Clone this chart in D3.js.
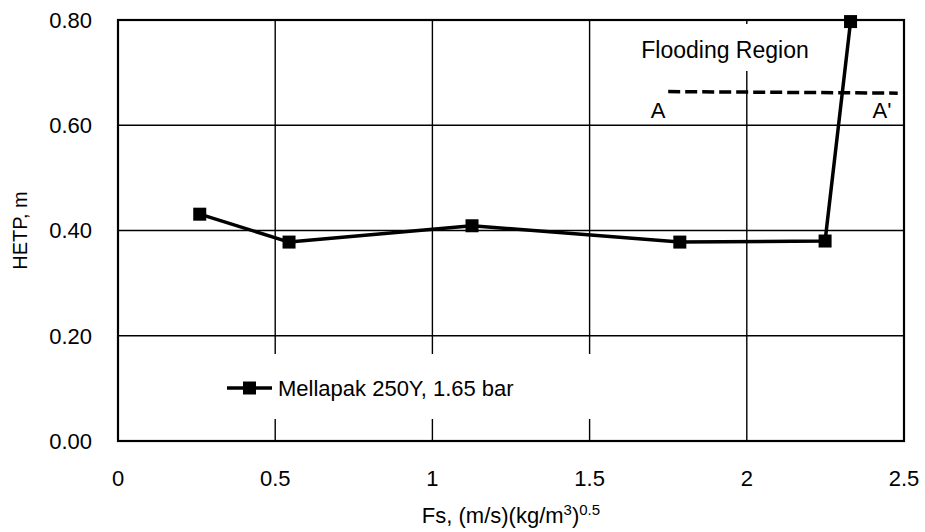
<!DOCTYPE html>
<html lang="en">
<head>
<meta charset="UTF-8">
<title>HETP vs Fs</title>
<script src="https://d3js.org/d3.v7.min.js"></script>
<style>
  body { margin: 0; background: #fff; }
  text { font-family: "Liberation Sans", Arial, sans-serif; fill: #000; }
</style>
</head>
<body>
<svg id="chart" width="925" height="532"></svg>
<script>
    // data
    var fsValues = [0.26, 0.544, 1.126, 1.787, 2.249, 2.33];
    var hetpValues = [0.431, 0.378, 0.409, 0.378, 0.380, 0.797];
    var seriesName = "Mellapak 250Y, 1.65 bar";

    var xTicks = [0, 0.5, 1, 1.5, 2, 2.5];
    var yTicks = [0, 0.2, 0.4, 0.6, 0.8];

    // flooding boundary line A - A'
    var floodX = [1.75, 2.48];
    var floodY = [0.664, 0.661];

    var margin = {left: 118, right: 21, top: 20, bottom: 91};
    var width = 925, height = 532;

    var svg = d3.select("#chart");

    var x = d3.scaleLinear().domain([0, 2.5]).range([margin.left, width - margin.right]);
    var y = d3.scaleLinear().domain([0, 0.8]).range([height - margin.bottom, margin.top]);

    // gridlines
    svg.append("g")
        .selectAll("line.hgrid")
        .data(yTicks.slice(1, -1))
        .enter()
        .append("line")
        .attr("x1", x(0)).attr("x2", x(2.5))
        .attr("y1", function(d) { return y(d); })
        .attr("y2", function(d) { return y(d); })
        .attr("stroke", "#000").attr("stroke-width", 1.4);

    svg.append("g")
        .selectAll("line.vgrid")
        .data(xTicks.slice(1, -1))
        .enter()
        .append("line")
        .attr("y1", y(0)).attr("y2", y(0.8))
        .attr("x1", function(d) { return x(d); })
        .attr("x2", function(d) { return x(d); })
        .attr("stroke", "#000").attr("stroke-width", 1.4);

    // white boxes behind legend and flooding label
    svg.append("rect")
        .attr("x", 140).attr("y", 354).attr("width", 580).attr("height", 65)
        .attr("fill", "#fff");
    svg.append("rect")
        .attr("x", 635).attr("y", 24).attr("width", 180).attr("height", 47)
        .attr("fill", "#fff");

    // plot border
    svg.append("rect")
        .attr("x", x(0)).attr("y", y(0.8))
        .attr("width", x(2.5) - x(0)).attr("height", y(0) - y(0.8))
        .attr("fill", "none").attr("stroke", "#000").attr("stroke-width", 2.2);

    // axes labels
    svg.append("g")
        .selectAll("text")
        .data(yTicks)
        .enter()
        .append("text")
        .attr("x", 92)
        .attr("y", function(d) { return y(d); })
        .attr("dy", "0.36em")
        .attr("text-anchor", "end")
        .style("font-size", "22px")
        .text(d3.format(".2f"));

    svg.append("g")
        .selectAll("text")
        .data(xTicks)
        .enter()
        .append("text")
        .attr("x", function(d) { return x(d); })
        .attr("y", 486)
        .attr("text-anchor", "middle")
        .style("font-size", "22px")
        .text(function(d) { return String(d); });

    // axis titles
    svg.append("text")
        .attr("transform", "translate(27," + ((y(0) + y(0.8)) / 2) + ") rotate(-90)")
        .attr("text-anchor", "middle")
        .style("font-size", "20px")
        .text("HETP, m");

    var xt = svg.append("text")
        .attr("x", 511).attr("y", 523)
        .attr("text-anchor", "middle")
        .style("font-size", "22px");
    xt.append("tspan").text("Fs, (m/s)(kg/m");
    xt.append("tspan").attr("dy", -8).style("font-size", "15px").text("3");
    xt.append("tspan").attr("dy", 8).text(")");
    xt.append("tspan").attr("dy", -8).style("font-size", "15px").text("0.5");

    // flooding annotation
    svg.append("line")
        .attr("x1", x(floodX[0])).attr("y1", y(floodY[0]))
        .attr("x2", x(floodX[1])).attr("y2", y(floodY[1]))
        .attr("stroke", "#000").attr("stroke-width", 3.5)
        .attr("stroke-dasharray", "12,5");

    svg.append("text")
        .attr("x", 725).attr("y", 58)
        .attr("text-anchor", "middle")
        .style("font-size", "23px")
        .text("Flooding Region");
    svg.append("text")
        .attr("x", 658).attr("y", 118)
        .attr("text-anchor", "middle")
        .style("font-size", "22px")
        .text("A");
    svg.append("text")
        .attr("x", 882).attr("y", 118)
        .attr("text-anchor", "middle")
        .style("font-size", "22px")
        .text("A'");

    // series line and markers
    var points = fsValues.map(function(v, i) { return {x: v, y: hetpValues[i]}; });

    var lineFunction = d3.line()
        .x(function(d) { return x(d.x); })
        .y(function(d) { return y(d.y); });

    svg.append("path")
        .attr("d", lineFunction(points))
        .attr("fill", "none")
        .attr("stroke", "#000")
        .attr("stroke-width", 3.5)
        .attr("stroke-linejoin", "round");

    var ms = 13;
    svg.append("g")
        .selectAll("rect")
        .data(points)
        .enter()
        .append("rect")
        .attr("x", function(d) { return x(d.x) - ms / 2; })
        .attr("y", function(d) { return y(d.y) - ms / 2; })
        .attr("width", ms).attr("height", ms)
        .attr("fill", "#000");

    // legend
    var lg = svg.append("g").attr("transform", "translate(227,388)");
    lg.append("line").attr("x1", 0).attr("x2", 45).attr("y1", 0).attr("y2", 0)
        .attr("stroke", "#000").attr("stroke-width", 3.5);
    lg.append("rect").attr("x", 16).attr("y", -6.5).attr("width", ms).attr("height", ms).attr("fill", "#000");
    lg.append("text").attr("x", 51).attr("y", 0).attr("dy", "0.36em")
        .style("font-size", "22px")
        .text(seriesName);
</script>
</body>
</html>
